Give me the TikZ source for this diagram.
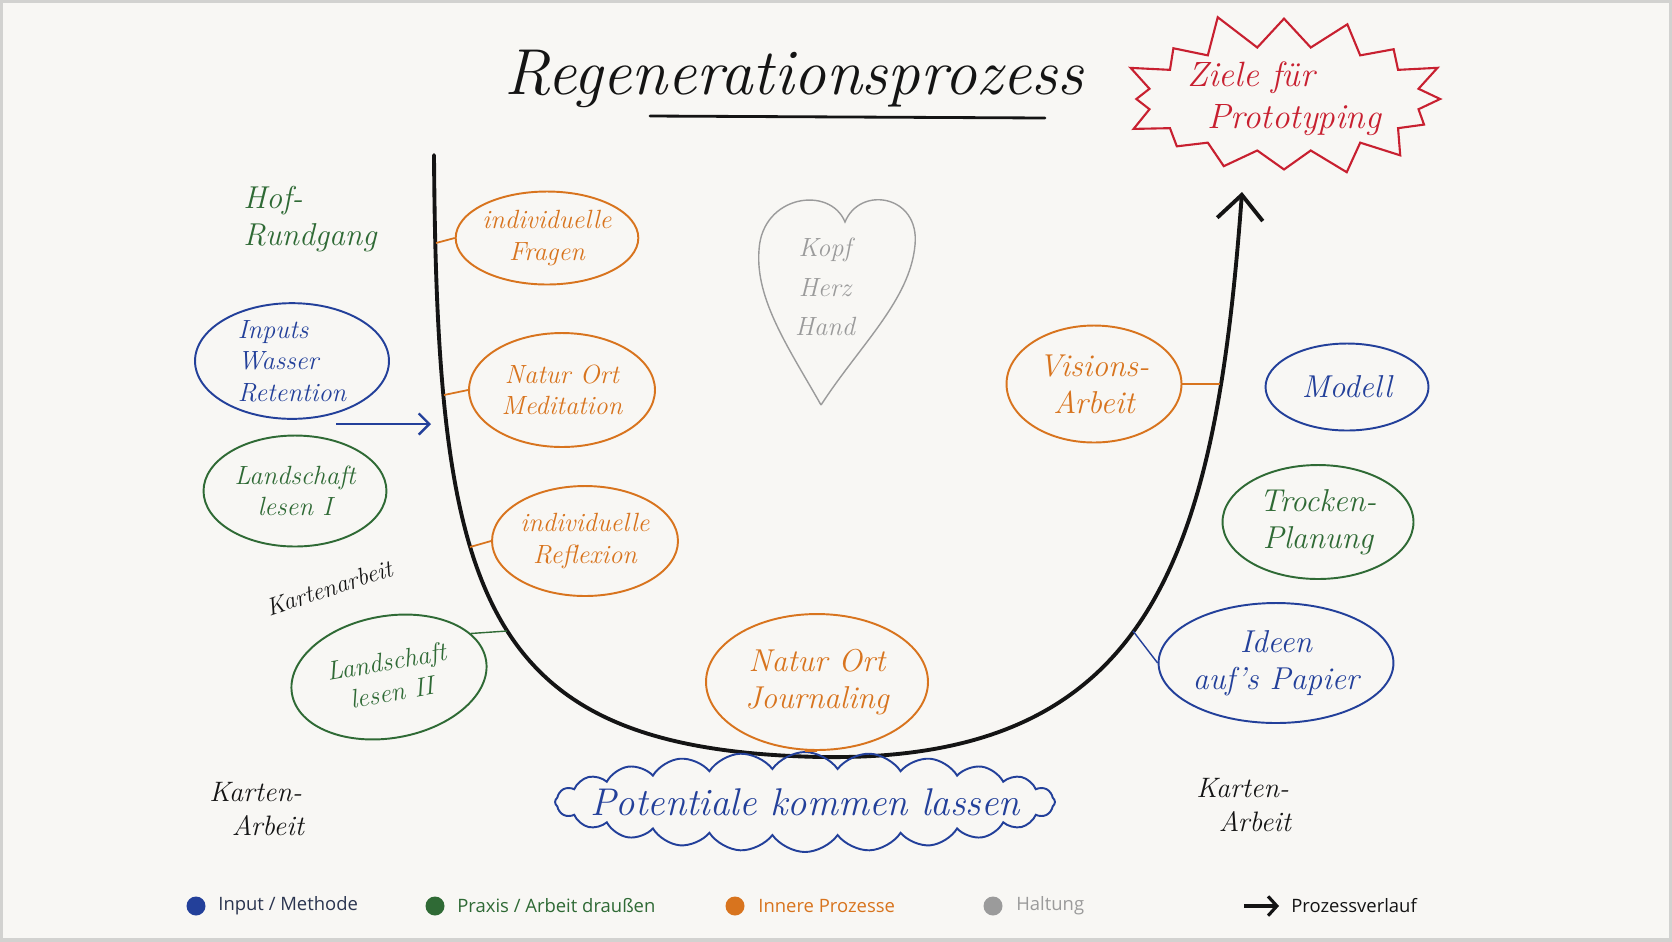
\documentclass[tikz,border=0pt]{standalone}
\usepackage{fontspec}
\newfontfamily\legendfont{Open Sans}
\usetikzlibrary{positioning, arrows.meta, shapes.geometric, shapes.symbols}
\definecolor{color_paper}{HTML}{F8F7F4}
\definecolor{color_frame}{HTML}{D2D2D0}
\definecolor{color_ink}{HTML}{141414}
\definecolor{color_input}{HTML}{23409A}
\definecolor{color_praxis}{HTML}{2F6A35}
\definecolor{color_inner}{HTML}{D8741E}
\definecolor{color_haltung}{HTML}{9B9B9B}
\definecolor{color_goal}{HTML}{C82030}
\definecolor{color_legendtext}{HTML}{2B3550}
\tikzset{
  hand_text/.style={font=\itshape\fontsize{15}{18}\selectfont, align=center},
  hand_big/.style={font=\itshape\fontsize{18}{21}\selectfont},
  idea_blob/.style={ellipse, draw, line width=1.1pt, inner sep=0pt, hand_text},
  input_blob/.style={idea_blob, draw=color_input, text=color_input},
  praxis_blob/.style={idea_blob, draw=color_praxis, text=color_praxis},
  inner_blob/.style={idea_blob, draw=color_inner, text=color_inner},
  process_curve/.style={draw=color_ink, line width=2.2pt, line cap=round},
  blob_link/.style={line width=1pt},
  side_note/.style={hand_text, align=left, anchor=west, text=color_ink, inner sep=0pt},
  legend_dot/.style={circle, inner sep=0pt, minimum size=0.38cm},
  legend_label/.style={font=\legendfont\fontsize{10.5}{12}\selectfont, anchor=west, inner sep=0pt},
}

\begin{document}
\begin{tikzpicture}[x=0.02cm, y=-0.02cm]
    \useasboundingbox (0,0) rectangle (1672,941);
    \fill[color_paper] (0,0) rectangle (1672,941);
    \draw[color_frame, line width=3pt] (0,0) rectangle (1672,941);

    % title
    \node[font=\itshape\fontsize{37}{44}\selectfont, text=color_ink] (title) at (794,79) {Regenerationsprozess};
    \draw[color_ink, line width=1.6pt, line cap=round] (650,116) -- (1045,118);

    % goal
    \node[starburst, draw=color_goal, line width=1.2pt, starburst points=16,
      starburst point height=0.75cm, random starburst=11,
      minimum width=6.3cm, minimum height=3.6cm, text=color_goal,
      font=\itshape\fontsize{20}{24}\selectfont, align=left, inner sep=0pt] (goal) at (1284,99)
      {Ziele für\\\hspace*{0.4cm}Prototyping};

    % the U of the process
    \draw[process_curve, -{Straight Barb[length=14pt, width=26pt]}]
      (434,155) .. controls (437,600) and (480,750) .. (821,757)
      .. controls (1150,762) and (1215,560) .. (1242,192);
    \coordinate (u_fragen) at (436,243);
    \coordinate (u_meditation) at (444,395);
    \coordinate (u_reflexion) at (470,547);
    \coordinate (u_landschaft) at (507,631);
    \coordinate (u_visions) at (1220,384);
    \coordinate (u_ideen) at (1133,631);
    \coordinate (u_inputs) at (431,424);
    \coordinate (inputs_tail) at (336,424);

    % left side
    \node[side_note, hand_big, text=color_praxis] (hof) at (243,219) {Hof-\\Rundgang};
    \node[input_blob, align=left, minimum width=3.88cm, minimum height=2.28cm] (inputs) at (292,361) {Inputs\\Wasser\\Retention};
    \node[praxis_blob, minimum width=3.66cm, minimum height=2.22cm] (landschaft_a) at (295,491) {Landschaft\\lesen I};
    \node[side_note, anchor=center, rotate=18, font=\itshape\fontsize{14}{16}\selectfont] (kartenarbeit) at (329,588) {Kartenarbeit};
    \node[praxis_blob, rotate=10, minimum width=3.94cm, minimum height=2.44cm] (landschaft_b) at (389,677) {Landschaft\\lesen II};
    \node[side_note, font=\itshape\fontsize{16}{19}\selectfont] (karten_left) at (209,809) {Karten-\\\hspace*{0.45cm}Arbeit};

    % inner processes
    \node[inner_blob, minimum width=3.5cm, minimum height=1.86cm] (fragen) at (547,238) {individuelle\\Fragen};
    \node[inner_blob, minimum width=3.72cm, minimum height=2.28cm] (meditation) at (562,390) {Natur Ort\\Meditation};
    \node[inner_blob, minimum width=3.72cm, minimum height=2.2cm] (reflexion) at (585,541) {individuelle\\Reflexion};
    \node[inner_blob, hand_big, minimum width=4.44cm, minimum height=2.72cm] (journaling) at (817,682) {Natur Ort\\Journaling};
    \node[inner_blob, hand_big, minimum width=3.5cm, minimum height=2.34cm] (visions) at (1094,384) {Visions-\\Arbeit};

    \node[cloud, draw=color_input, line width=1.1pt, cloud puffs=24, cloud puff arc=110,
      aspect=5, minimum width=10cm, minimum height=2cm, inner sep=0pt,
      label={[text=color_input, font=\itshape\fontsize{22}{24}\selectfont]center:Potentiale kommen lassen}]
      (potential) at (805,802) {};

    % attitude
    \draw[color_haltung, line width=0.8pt] (821,405) .. controls (790,350) and (755,300) .. (759,250)
      .. controls (762,195) and (830,185) .. (845,222)
      .. controls (860,185) and (920,195) .. (915,245)
      .. controls (910,300) and (860,345) .. (821,405);
    \node[hand_text, text=color_haltung, font=\itshape\fontsize{15}{22.5}\selectfont] (haltung) at (825,287) {Kopf\\Herz\\Hand};

    % right side
    \node[input_blob, hand_big, minimum width=3.26cm, minimum height=1.74cm] (modell) at (1347,387) {Modell};
    \node[praxis_blob, hand_big, minimum width=3.82cm, minimum height=2.28cm] (trocken) at (1318,522) {Trocken-\\Planung};
    \node[input_blob, hand_big, minimum width=4.38cm, minimum height=2.4cm] (ideen) at (1276,663) {Ideen\\auf's Papier};
    \node[side_note, font=\itshape\fontsize{16}{19}\selectfont] (karten_right) at (1196,805) {Karten-\\\hspace*{0.45cm}Arbeit};

    % links onto the U
    \draw[blob_link, color_inner] (u_fragen) -- (fragen.west);
    \draw[blob_link, color_inner] (u_meditation) -- (meditation.west);
    \draw[blob_link, color_inner] (u_reflexion) -- (reflexion.west);
    \draw[blob_link, color_inner] (visions.east) -- (u_visions);
    \draw[blob_link, color_inner] (journaling.south) -- (potential.north);
    \draw[blob_link, color_praxis, line width=0.8pt] (landschaft_b.18) -- (u_landschaft);
    \draw[blob_link, color_input, line width=0.8pt] (u_ideen) -- (ideen.west);
    \draw[color_input, line width=1.4pt, -{Straight Barb[length=6pt, width=12pt]}] (inputs_tail) -- (u_inputs);

    % legend
    \node[legend_dot, fill=color_input] (dot_input) at (196,906) {};
    \node[legend_label, text=color_legendtext] (lab_input) at (218,906) {Input / Methode};
    \node[legend_dot, fill=color_praxis] (dot_praxis) at (435,906) {};
    \node[legend_label, text=color_praxis] (lab_praxis) at (457,906) {Praxis / Arbeit draußen};
    \node[legend_dot, fill=color_inner] (dot_inner) at (735,906) {};
    \node[legend_label, text=color_inner] (lab_inner) at (758,906) {Innere Prozesse};
    \node[legend_dot, fill=color_haltung] (dot_haltung) at (993,906) {};
    \node[legend_label, text=color_haltung] (lab_haltung) at (1016,906) {Haltung};
    \coordinate (arrow_from) at (1244,906);
    \coordinate (arrow_to) at (1279,906);
    \draw[color_ink, line width=1.8pt, -{Straight Barb[length=5pt, width=11pt]}] (arrow_from) -- (arrow_to);
    \node[legend_label, text=color_ink] (lab_arrow) at (1291,906) {Prozessverlauf};
  \end{tikzpicture}
\end{document}
